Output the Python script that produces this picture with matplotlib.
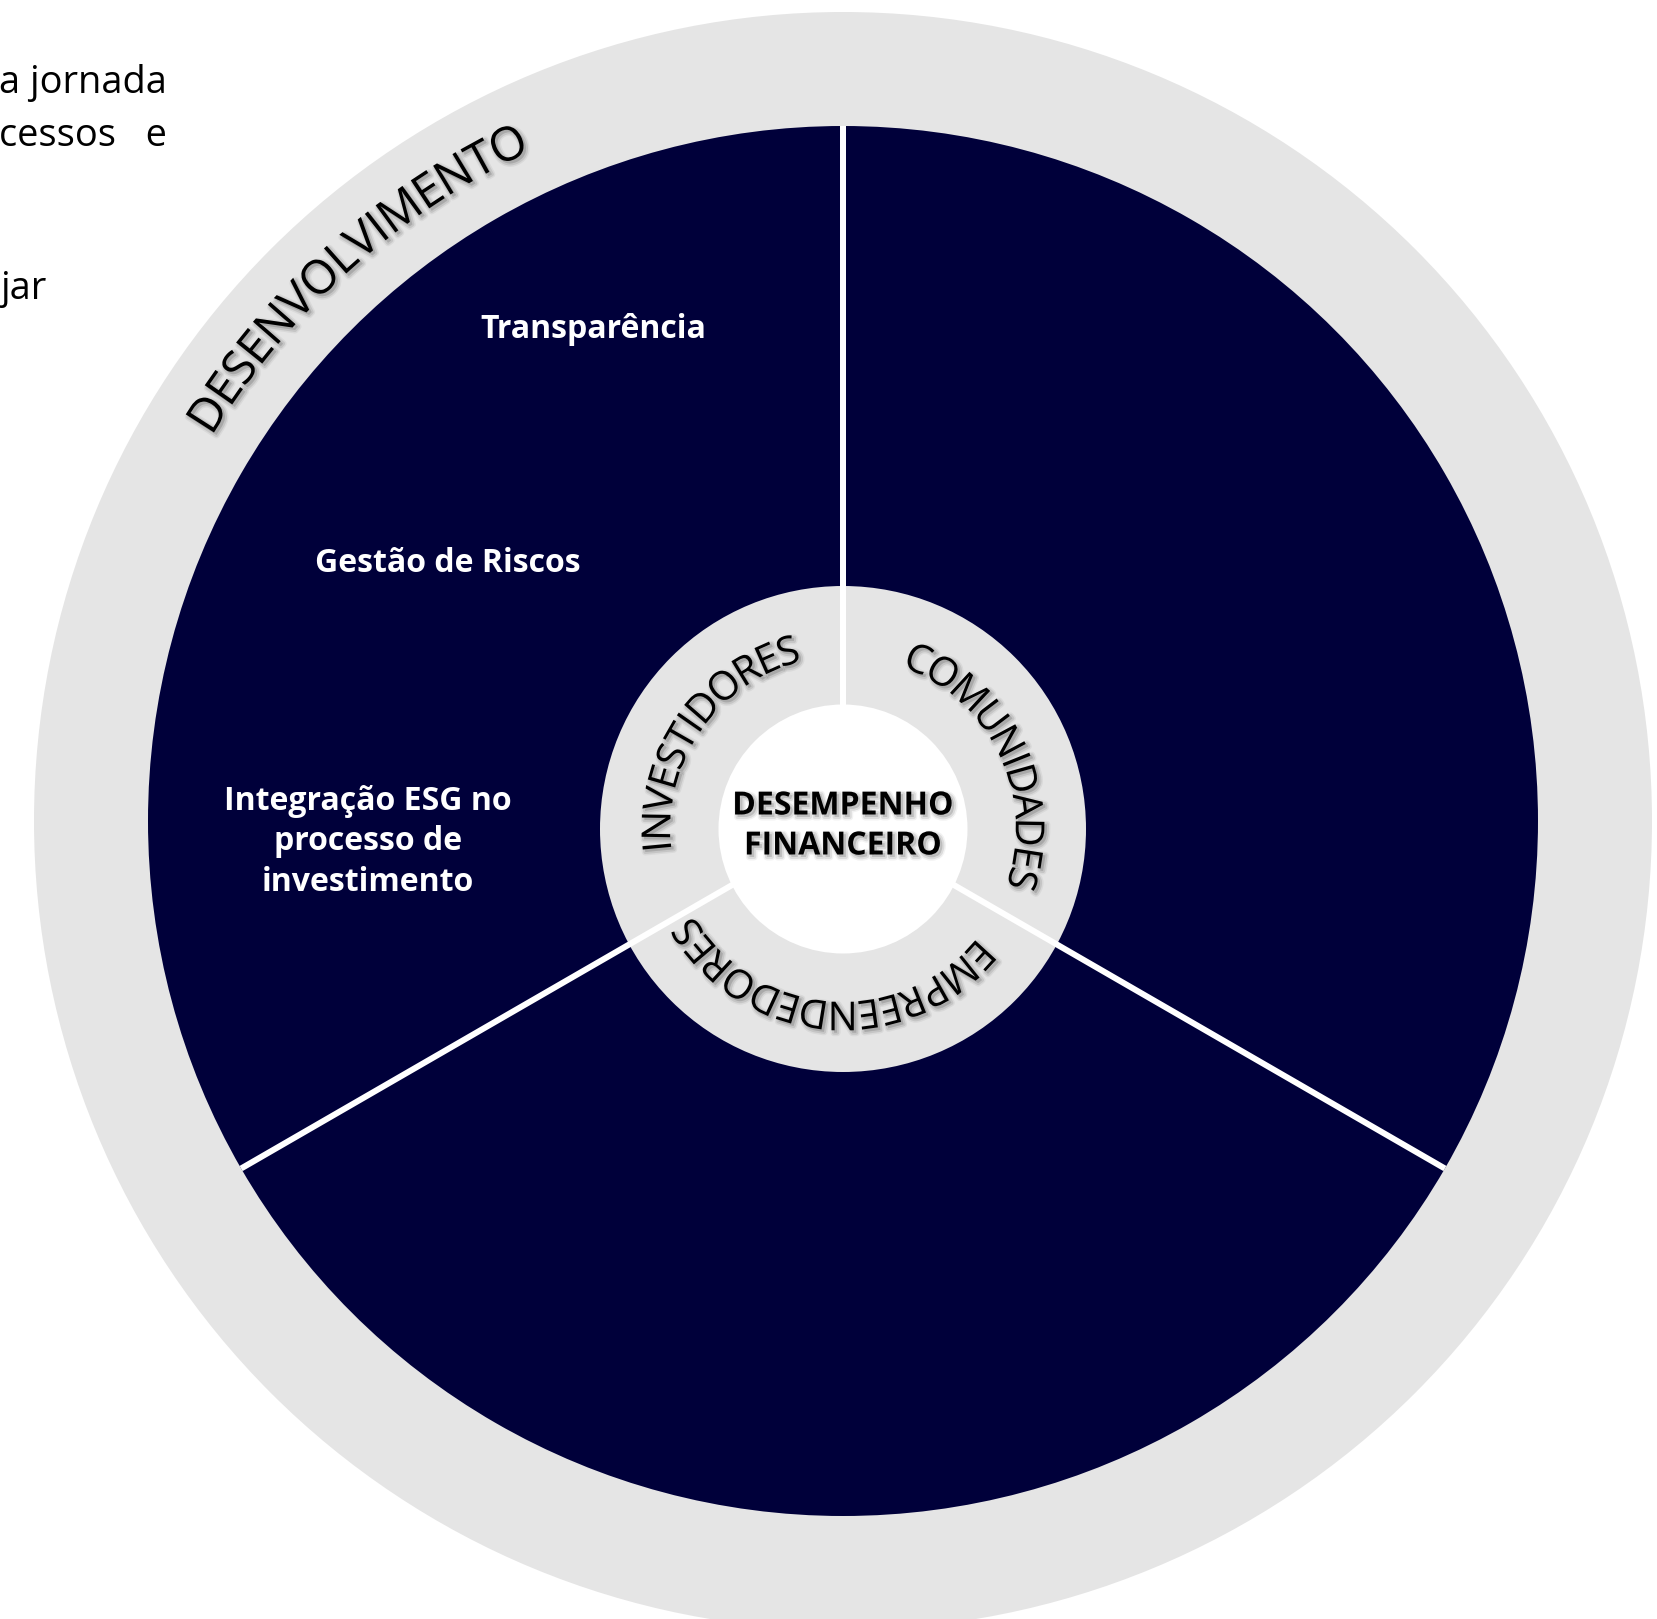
import numpy as np
import matplotlib.pyplot as plt
from matplotlib.patches import Circle
from matplotlib.textpath import TextToPath
from matplotlib.font_manager import FontProperties
import matplotlib.patheffects as pe

# -------------------------------------------------------
# Dados do diagrama
# -------------------------------------------------------
W, H = 1657, 1619
DPI = 72

pilares = ['Transparência', 'Gestão de Riscos', 'Integração ESG no\nprocesso de\ninvestimento']
publicos = ['INVESTIDORES', 'EMPREENDEDORES', 'COMUNIDADES']
pesos = [1, 1, 1]
anel_externo = 'DESENVOLVIMENTO'
centro_txt = 'DESEMPENHO\nFINANCEIRO'
texto_lateral = ['a jornada', 'cessos   e', 'jar']

navy = '#00003A'
cinza = '#E5E5E5'

# geometria (pixels da imagem, y para baixo)
cx = 843
cy_ext = 821      # centro dos circulos externos
cy_int = 829      # centro dos circulos internos
R_cinza = 809
R_navy = 695
R_anel = 243
R_branco = 124.5

fig = plt.figure(figsize=(W / DPI, H / DPI), dpi=DPI)
ax = fig.add_axes([0, 0, 1, 1])

def Y(y):
    return H - y

# circulo cinza externo
ax.add_patch(Circle((cx, Y(cy_ext)), R_cinza, color=cinza, zorder=1, lw=0))

# setores escuros
wedges, _ = ax.pie(pesos, colors=[navy] * len(pesos), radius=R_navy,
                   center=(cx, Y(cy_ext)), startangle=90, counterclock=True,
                   wedgeprops=dict(linewidth=0))
for w in wedges:
    w.set_zorder(2)

# anel cinza interno
ax.add_patch(Circle((cx, Y(cy_int)), R_anel, color=cinza, zorder=3, lw=0))

# linhas divisórias
limites = 90 + 360 * np.cumsum(pesos) / np.sum(pesos)
for a in limites:
    t = np.deg2rad(a)
    ax.plot([cx, cx + R_navy * np.cos(t)], [Y(cy_ext), Y(cy_ext) + R_navy * np.sin(t)],
            color='white', lw=6, solid_capstyle='butt', zorder=4)

# circulo branco central
ax.add_patch(Circle((cx, Y(cy_int)), R_branco, color='white', zorder=5, lw=0))

# sombra dos textos
sombra = [pe.Stroke(linewidth=7, foreground='black', alpha=0.05, offset=(2.5, -2.5)),
          pe.Stroke(linewidth=4, foreground='black', alpha=0.09, offset=(2.5, -2.5)),
          pe.Normal()]

t2p = TextToPath()

def largura(s, fp):
    if not s:
        return 0.0
    w, h, d = t2p.get_text_width_height_descent(s, fp, ismath=False)
    return w

def texto_curvo(s, ccx, ccy, r_meio, ang_centro, fp, tracking=1.0):
    cap = 0.714 * fp.get_size_in_points()
    r_base = r_meio - cap / 2
    total = largura(s, fp) * tracking
    for i, ch in enumerate(s):
        pos = (largura(s[:i], fp) + largura(s[:i + 1], fp)) / 2 * tracking
        th = np.deg2rad(ang_centro) + (total / 2 - pos) / r_meio
        ax.text(ccx + r_base * np.cos(th), ccy + r_base * np.sin(th), ch,
                rotation=np.rad2deg(th) - 90, rotation_mode='anchor',
                ha='center', va='baseline', fontproperties=fp, color='black',
                path_effects=sombra, zorder=6)

# texto no anel externo
fp_ext = FontProperties(family='Open Sans', size=47)
texto_curvo(anel_externo, cx, Y(cy_ext), 756, 131.8, fp_ext)

# textos do anel interno (centrados nos setores)
fp_int = FontProperties(family='Open Sans', size=40)
inicio = 90 + 360 * np.concatenate([[0], np.cumsum(pesos)[:-1]]) / np.sum(pesos)
meios = inicio + 180 * np.array(pesos) / np.sum(pesos)
for nome, m in zip(publicos, meios):
    texto_curvo(nome, cx, Y(cy_int), 187, m - 4.5, fp_int)

# pilares no setor superior esquerdo
pos_pilares = [(593, 329), (448, 564), (368, 842)]
for txt, (x, y) in zip(pilares, pos_pilares):
    ax.text(x, Y(y), txt, color='white', fontsize=32, fontweight='bold',
            family='Open Sans', ha='center', va='center', linespacing=1.3, zorder=6)

# texto central
ax.text(cx, Y(826), centro_txt, color='black', fontsize=32, fontweight='bold',
        family='Open Sans', ha='center', va='center', linespacing=1.28,
        path_effects=sombra, zorder=7)

# fragmento de texto à esquerda
for txt, yb, xr in zip(texto_lateral, [93, 146, 299], [167, 167, 46]):
    ax.text(xr, Y(yb), txt, color='black', fontsize=38, family='Open Sans',
            ha='right', va='baseline', zorder=6)

ax.set_xlim(0, W)
ax.set_ylim(0, H)
ax.set_aspect('equal')
ax.axis('off')
fig.savefig('out.png', dpi=DPI, facecolor='white')
